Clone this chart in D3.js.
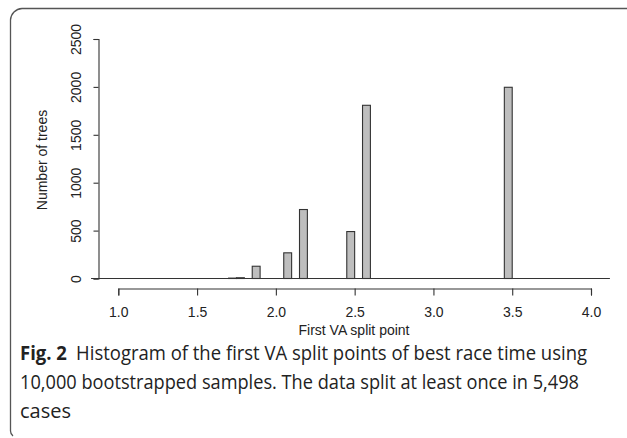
<!DOCTYPE html>
<html>
<head>
<meta charset="utf-8">
<script src="https://cdn.jsdelivr.net/npm/d3@7"></script>
<style>
  body { margin: 0; background: #fff; }
  svg { display: block; }
  .tick-label { font-family: "Liberation Sans", Arial, sans-serif; font-size: 14px; fill: #222; }
  .caption { font-family: "Open Sans", "Noto Sans", sans-serif; font-size: 19.5px; fill: #222; }
</style>
</head>
<body>
<svg id="chart" width="627" height="438"></svg>
<script>
// histogram bins (left edge of each 0.05 wide bin) and counts
const binStarts = [1.70, 1.75, 1.85, 2.05, 2.15, 2.45, 2.55, 3.45];
const binCounts = [4, 8, 128, 268, 720, 490, 1808, 1996];
const binWidth = 0.05;
// range covered by the (empty) histogram cells along the baseline
const histRange = [0.827, 4.12];

const xTicks = [1.0, 1.5, 2.0, 2.5, 3.0, 3.5, 4.0];
const yTicks = [0, 500, 1000, 1500, 2000, 2500];

const xLabel = "First VA split point";
const yLabel = "Number of trees";
const captionBold = "Fig. 2";
const captionLines = [
    "Histogram of the first VA split points of best race time using",
    "10,000 bootstrapped samples. The data split at least once in 5,498",
    "cases"
];
// widths the caption lines take in the figure
const captionWidths = [567, 559, 51];

const svg = d3.select("#chart");

//scales
let x = d3.scaleLinear().domain([1, 4]).range([118.3, 591]);
let y = d3.scaleLinear().domain([0, 2500]).range([278.5, 39]);

//frame of the figure box
svg.append("path")
    .attr("d", "M627,8.5 H22 A12 12 0 0 0 10.5 20 V431 Q10.5 434 13 436")
    .attr("fill", "none")
    .attr("stroke", "#555")
    .attr("stroke-width", 1.3);

//baseline made of the empty histogram cells
svg.append("line")
    .attr("x1", x(histRange[0])).attr("x2", x(histRange[1]))
    .attr("y1", y(0)).attr("y2", y(0))
    .attr("stroke", "#333").attr("stroke-width", 1.2);

//bars
svg.selectAll(".bar")
    .data(binStarts.map((s, i) => ({start: s, count: binCounts[i]})))
    .join("rect")
    .attr("class", "bar")
    .attr("x", d => x(d.start))
    .attr("width", d => x(d.start + binWidth) - x(d.start))
    .attr("y", d => y(d.count))
    .attr("height", d => y(0) - y(d.count))
    .attr("fill", "#bebebe")
    .attr("stroke", "#333")
    .attr("stroke-width", 1.1);

//x axis
let xAxis = svg.append("g")
    .attr("transform", "translate(0,288.5)")
    .call(d3.axisBottom(x).tickValues(xTicks).tickFormat(d3.format(".1f")).tickSizeOuter(0).tickSize(7).tickPadding(12));
xAxis.select(".domain").attr("stroke", "#333").attr("stroke-width", 1.1);
xAxis.selectAll(".tick line").attr("stroke", "#333").attr("stroke-width", 1.1);
xAxis.selectAll(".tick text").attr("class", "tick-label").attr("font-family", null).attr("font-size", null);

svg.append("text")
    .attr("class", "tick-label")
    .attr("x", 354)
    .attr("y", 335)
    .style("text-anchor", "middle")
    .text(xLabel);

//y axis
let yAxis = svg.append("g")
    .attr("transform", "translate(98.5,0)")
    .call(d3.axisLeft(y).tickValues(yTicks).tickSizeOuter(0).tickSize(5).tickFormat(d3.format("d")));
yAxis.select(".domain").attr("stroke", "#333").attr("stroke-width", 1.1);
yAxis.selectAll(".tick line").attr("stroke", "#333").attr("stroke-width", 1.1);
yAxis.selectAll(".tick text")
    .attr("class", "tick-label")
    .attr("font-family", null).attr("font-size", null)
    .attr("x", null).attr("dy", null)
    .attr("transform", "translate(-18,0) rotate(-90)")
    .style("text-anchor", "middle");

svg.append("text")
    .attr("class", "tick-label")
    .attr("transform", "translate(47,160) rotate(-90)")
    .style("text-anchor", "middle")
    .text(yLabel);

//caption
let cap = svg.append("text").attr("class", "caption").attr("x", 20).attr("y", 360)
    .attr("textLength", captionWidths[0]).attr("lengthAdjust", "spacingAndGlyphs");
cap.append("tspan").style("font-weight", "bold").text(captionBold);
cap.append("tspan").text("\u2002" + captionLines[0]);

svg.append("text").attr("class", "caption").attr("x", 20).attr("y", 389)
    .attr("textLength", captionWidths[1]).attr("lengthAdjust", "spacingAndGlyphs")
    .text(captionLines[1]);
svg.append("text").attr("class", "caption").attr("x", 20).attr("y", 418)
    .attr("textLength", captionWidths[2]).attr("lengthAdjust", "spacingAndGlyphs")
    .text(captionLines[2]);
</script>
</body>
</html>
